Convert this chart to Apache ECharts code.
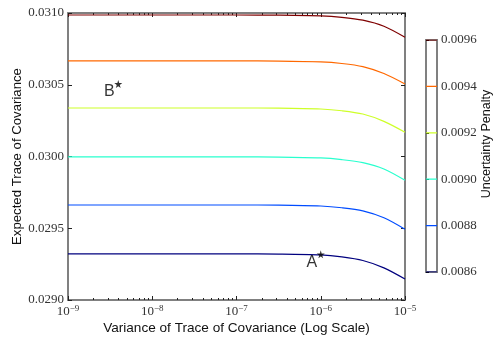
<!DOCTYPE html>
<html><head><meta charset="utf-8">
<script src="https://cdn.jsdelivr.net/npm/echarts@6/dist/echarts.min.js"></script>
<style>html,body{margin:0;padding:0;background:#fff}#c{width:494px;height:342px}</style>
</head><body><div id="c"></div>
<script>
// x positions (variance of trace of covariance)
const xs = [1e-9, 1e-8, 1e-7, 3.16e-7, 1e-6, 1.78e-6, 3.16e-6, 5.62e-6, 1e-5];
// contour levels (uncertainty penalty)
const levels = [0.0086, 0.0088, 0.0090, 0.0092, 0.0094, 0.0096];
const levelColors = ['#00007f', '#004cff', '#29ffce', '#ceff29', '#ff6800', '#7f0000'];
// expected trace of covariance along each contour
const line0086 = [0.029321, 0.029321, 0.029321, 0.029320, 0.029314, 0.029300, 0.029275, 0.029224, 0.029146];
const line0088 = [0.029662, 0.029662, 0.029662, 0.029661, 0.029655, 0.029643, 0.029621, 0.029573, 0.029493];
const line0090 = [0.029997, 0.029997, 0.029997, 0.029996, 0.029990, 0.029978, 0.029957, 0.029913, 0.029834];
const line0092 = [0.030338, 0.030338, 0.030338, 0.030337, 0.030331, 0.030319, 0.030296, 0.030245, 0.030169];
const line0094 = [0.030666, 0.030666, 0.030666, 0.030665, 0.030659, 0.030648, 0.030626, 0.030578, 0.030505];
const line0096 = [0.030986, 0.030986, 0.030986, 0.030985, 0.030980, 0.030970, 0.030950, 0.030908, 0.030831];
const contourLines = [line0086, line0088, line0090, line0092, line0094, line0096];
// annotated points
const pointNames = ['A', 'B'];
const pointX = [1e-6, 3.95e-9];
const pointY = [0.029318, 0.030505];
// minor tick values of the log axis
const xMinor = [];
for (let e = -9; e < -5; e++) for (let m = 2; m <= 9; m++) xMinor.push(m * Math.pow(10, e));

const gray = '#808080';
const serif = 'Liberation Serif';
const sans = 'Liberation Sans';
const star = 'path://M50,0 L61,35 L98,35 L68,57 L79,91 L50,70 L21,91 L32,57 L2,35 L39,35 Z';

function xAx(pos, major, labels) {
  return {
    type: 'log', logBase: 10, min: 1e-9, max: 1e-5, gridIndex: 0, position: pos,
    axisLine: { show: major, lineStyle: { color: gray, width: 2 } },
    axisTick: major ? { show: true, inside: true, length: 4, lineStyle: { color: '#222' } }
                    : { show: true, inside: true, length: 2, customValues: xMinor, lineStyle: { color: '#222' } },
    axisLabel: labels ? {
      show: true, margin: 4,
      formatter: v => '{b|10}{s|\u2212' + Math.abs(Math.round(Math.log10(v))) + '}',
      rich: { b: { fontFamily: serif, fontSize: 13, color: '#333' },
              s: { fontFamily: serif, fontSize: 9, color: '#333', padding: [0, 0, 7, 0] } }
    } : { show: false },
    splitLine: { show: false }, minorTick: { show: false },
    name: labels ? 'Variance of Trace of Covariance (Log Scale)' : '',
    nameLocation: 'middle', nameGap: 21, nameMoveOverlap: false,
    nameTextStyle: { fontFamily: sans, fontSize: 13.6, color: '#111' }
  };
}
function yAx(pos, labels) {
  return {
    type: 'value', min: 0.029, max: 0.031, interval: 0.0005, gridIndex: 0, position: pos,
    axisLine: { show: true, lineStyle: { color: gray, width: 2 } },
    axisTick: { show: true, inside: true, length: 4, lineStyle: { color: '#222' } },
    axisLabel: labels ? { show: true, margin: 4, formatter: v => v.toFixed(4),
      fontFamily: serif, fontSize: 13, color: '#333' } : { show: false },
    splitLine: { show: false },
    name: labels ? 'Expected Trace of Covariance' : '',
    nameLocation: 'middle', nameGap: 44, nameRotate: 90, nameMoveOverlap: false,
    nameTextStyle: { fontFamily: sans, fontSize: 13.2, color: '#111' }
  };
}

const series = contourLines.map((vals, i) => ({
  type: 'line', xAxisIndex: 0, yAxisIndex: 0, smooth: 0.3, symbol: 'none',
  lineStyle: { color: levelColors[i], width: 1.2 },
  data: xs.map((x, j) => [x, vals[j]]), silent: true
}));
series.push({
  type: 'scatter', xAxisIndex: 0, yAxisIndex: 0, symbol: star, symbolSize: 8,
  itemStyle: { color: '#000' },
  label: { show: true, position: 'inside', offset: [-9, 8], formatter: p => p.name,
           fontFamily: sans, fontSize: 16, color: '#000' },
  data: pointNames.map((n, i) => ({ name: n, value: [pointX[i], pointY[i]] })), z: 5
});
levels.forEach((lv, i) => series.push({
  type: 'line', xAxisIndex: 4, yAxisIndex: 2, symbol: 'none', silent: true,
  lineStyle: { color: levelColors[i], width: 1.2 },
  data: [[0, lv], [1, lv]]
}));

const chart = echarts.init(document.getElementById('c'), null, { renderer: 'canvas' });
chart.setOption({
  animation: false,
  backgroundColor: '#fff',
  grid: [
    { left: 68, top: 13, right: 89, bottom: 42, show: false, containLabel: false, outerBoundsMode: 'none' },
    { left: 426, top: 40, width: 11, height: 232, show: true, borderColor: gray, borderWidth: 2,
      backgroundColor: '#fff', containLabel: false, outerBoundsMode: 'none' }
  ],
  xAxis: [xAx('bottom', true, true), xAx('bottom', false, false), xAx('top', true, false), xAx('top', false, false),
    { type: 'value', gridIndex: 1, min: 0, max: 1, show: false }],
  yAxis: [yAx('left', true), yAx('right', false), {
    type: 'value', gridIndex: 1, min: 0.0086, max: 0.0096, interval: 0.0002, position: 'right',
    axisLine: { show: false },
    axisTick: { show: true, inside: false, length: 3, lineStyle: { color: '#000' } },
    axisLabel: { show: true, margin: 4, formatter: v => v.toFixed(4), fontFamily: serif, fontSize: 13, color: '#333' },
    splitLine: { show: false },
    name: 'Uncertainty Penalty', nameLocation: 'middle', nameGap: 43, nameRotate: 90, nameMoveOverlap: false,
    nameTextStyle: { fontFamily: sans, fontSize: 12.5, color: '#111', padding: [0, 0, 0, 24] }
  }],
  series: series
});
</script></body></html>
